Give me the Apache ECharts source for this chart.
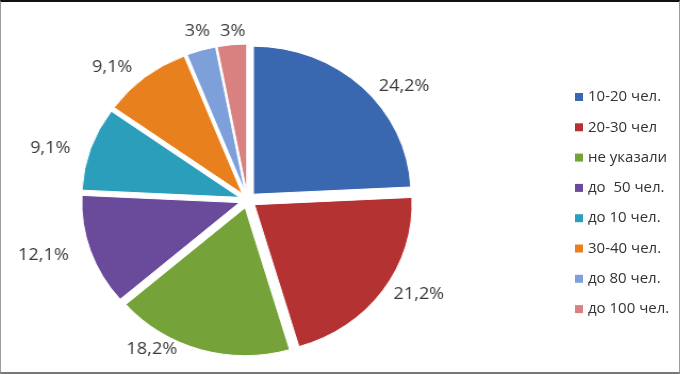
<!DOCTYPE html>
<html>
<head>
<meta charset="utf-8">
<script src="https://cdn.jsdelivr.net/npm/echarts@6/dist/echarts.min.js"></script>
<style>
html,body{margin:0;padding:0;background:#fff;}
#frame{position:relative;width:680px;height:374px;box-sizing:border-box;border-left:1px solid #9a9a9a;border-right:1px solid #9a9a9a;border-top:2px solid #111;border-bottom:2px solid #777;overflow:hidden;}
#pie{position:absolute;left:0;top:0;width:678px;height:370px;transform-origin:246.5px 198px;transform:scaleX(1.065);}
#legend{position:absolute;left:0;top:0;width:678px;height:370px;}
</style>
</head>
<body>
<div id="frame"><div id="pie"></div><div id="legend"></div></div>
<script>
const categories = ['10-20 чел.', '20-30 чел', 'не указали', 'до  50 чел.', 'до 10 чел.', '30-40 чел.', 'до 80 чел.', 'до 100 чел.'];
const values = [24.2, 21.2, 18.2, 12.1, 9.1, 9.1, 3, 3];
const labels = ['24,2%', '21,2%', '18,2%', '12,1%', '9,1%', '9,1%', '3%', '3%'];
const colors = ['#3A68B0', '#B53233', '#76A23A', '#6A4A9A', '#2A9EBA', '#E8801E', '#7DA0DA', '#D98080'];
// label leader lengths (hidden lines) used only to place each percentage text like the original
const labelLen = [1, 6, 0, 13, 2, 13, 20, 14];
const labelLen2 = [15, 5, 22, 8, 17, 4, -14, -14];

const pie = echarts.init(document.getElementById('pie'));
pie.setOption({
  animation: false,
  series: [{
    type: 'pie',
    center: [246.5, 198],
    radius: 148,
    startAngle: 90,
    clockwise: true,
    selectedMode: 'multiple',
    selectedOffset: 8,
    avoidLabelOverlap: false,
    silent: true,
    itemStyle: { borderColor: '#fff', borderWidth: 1 },
    label: {
      show: true,
      position: 'outside',
      fontFamily: 'Open Sans',
      fontSize: 17,
      color: '#3a3a3a',
      distanceToLabelLine: 0,
      formatter: p => labels[p.dataIndex]
    },
    labelLine: { show: false },
    data: categories.map((c, i) => ({
      name: c, value: values[i], selected: true,
      itemStyle: { color: colors[i] },
      labelLine: { show: false, length: labelLen[i], length2: labelLen2[i] }
    }))
  }]
});

const leg = echarts.init(document.getElementById('legend'));
leg.setOption({
  animation: false,
  legend: {
    orient: 'vertical',
    left: 569,
    top: 82,
    icon: 'rect',
    itemWidth: 8,
    itemHeight: 8,
    itemGap: 14.3,
    selectedMode: false,
    textStyle: { fontFamily: 'Open Sans', fontSize: 15, color: '#333', lineHeight: 16 },
    data: categories.map((c, i) => ({ name: c, itemStyle: { color: colors[i] } }))
  },
  series: [{
    type: 'pie', radius: 0, silent: true, label: { show: false },
    data: categories.map((c, i) => ({ name: c, value: 0, itemStyle: { color: colors[i] } }))
  }]
});
</script>
</body>
</html>
